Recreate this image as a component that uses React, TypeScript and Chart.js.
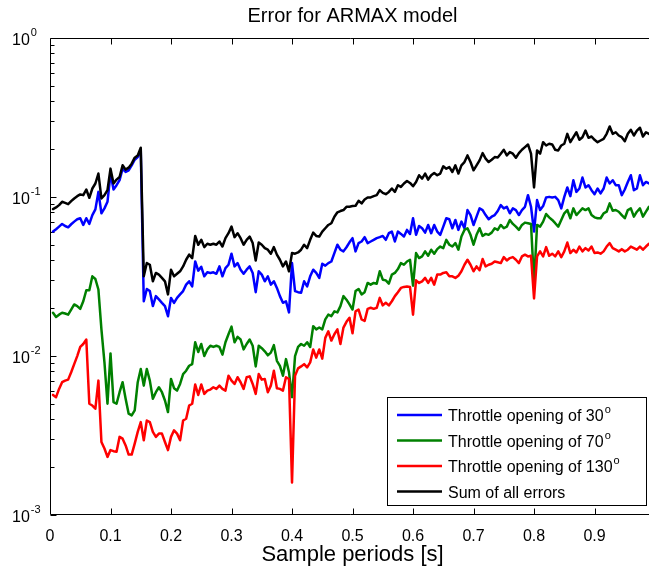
import { useEffect, useRef } from "react";
import { Chart, registerables } from "chart.js";

Chart.register(...registerables);

// ---------------- data ----------------
const SAMPLE_STEP = 0.005;

const throttle30 = [
  0.0606, 0.0627, 0.0651, 0.0677, 0.0657, 0.0645, 0.0674, 0.0700, 0.0724, 0.0735,
  0.0667, 0.0735, 0.0677, 0.0770, 0.0836, 0.1077, 0.0790, 0.0848, 0.0933, 0.1404,
  0.1115, 0.1186, 0.1275, 0.1508, 0.1436, 0.1472, 0.1582, 0.1716, 0.1782, 0.1963,
  0.0221, 0.0264, 0.0256, 0.0206, 0.0238, 0.0227, 0.0216, 0.0206, 0.0178, 0.0232,
  0.0216, 0.0232, 0.0244, 0.0256, 0.0281, 0.0295, 0.0274, 0.0393, 0.0344, 0.0364,
  0.0317, 0.0336, 0.0333, 0.0336, 0.0329, 0.0366, 0.0317, 0.0357, 0.0375, 0.0440,
  0.0366, 0.0384, 0.0349, 0.0329, 0.0349, 0.0366, 0.0333, 0.0252, 0.0341, 0.0325,
  0.0295, 0.0317, 0.0281, 0.0295, 0.0268, 0.0238, 0.0216, 0.0221, 0.0188, 0.0384,
  0.0256, 0.0252, 0.0250, 0.0295, 0.0274, 0.0317, 0.0349, 0.0333, 0.0310, 0.0380,
  0.0370, 0.0384, 0.0393, 0.0444, 0.0501, 0.0466, 0.0455, 0.0483, 0.0519, 0.0551,
  0.0455, 0.0513, 0.0525, 0.0559, 0.0513, 0.0525, 0.0538, 0.0551, 0.0559, 0.0569,
  0.0538, 0.0592, 0.0606, 0.0525, 0.0606, 0.0586, 0.0564, 0.0621, 0.0586, 0.0735,
  0.0578, 0.0657, 0.0636, 0.0597, 0.0667, 0.0592, 0.0667, 0.0606, 0.0578, 0.0651,
  0.0735, 0.0724, 0.0636, 0.0717, 0.0621, 0.0700, 0.0636, 0.0828, 0.0770, 0.0667,
  0.0752, 0.0848, 0.0828, 0.0770, 0.0724, 0.0752, 0.0770, 0.0816, 0.0889, 0.0848,
  0.0868, 0.0790, 0.0848, 0.0828, 0.0770, 0.0828, 0.0868, 0.1027, 0.0868, 0.0606,
  0.0956, 0.0828, 0.0877, 0.0994, 0.1002, 0.0994, 0.1002, 0.0956, 0.0848, 0.1002,
  0.1148, 0.1012, 0.1275, 0.1077, 0.1131, 0.1325, 0.1148, 0.1186, 0.1104, 0.1042,
  0.1131, 0.1053, 0.1131, 0.1325, 0.1216, 0.1275, 0.1186, 0.1186, 0.1027, 0.1115,
  0.1244, 0.1370, 0.1104, 0.1131, 0.1370, 0.1186, 0.1244, 0.1216,
];

const throttle70 = [
  0.0187, 0.0176, 0.0182, 0.0187, 0.0185, 0.0182, 0.0196, 0.0211, 0.0206, 0.0198,
  0.0221, 0.0259, 0.0259, 0.0317, 0.0305, 0.0262, 0.0147, 0.00912, 0.00501, 0.01038,
  0.00513, 0.00501, 0.00592, 0.00684, 0.00538, 0.00434, 0.00423, 0.00455, 0.00684, 0.00828,
  0.00651, 0.00828, 0.00700, 0.00538, 0.00592, 0.00636, 0.00592, 0.00525, 0.00444, 0.00717,
  0.00627, 0.00606, 0.00667, 0.00770, 0.00808, 0.00868, 0.00889, 0.0122, 0.0106, 0.0119,
  0.00999, 0.0110, 0.0116, 0.0114, 0.0116, 0.0114, 0.0102, 0.0122, 0.0137, 0.0153,
  0.0122, 0.0132, 0.0127, 0.0110, 0.0119, 0.0127, 0.0116, 0.00860, 0.0116, 0.0112,
  0.0107, 0.0101, 0.0105, 0.0117, 0.00933, 0.00868, 0.00752, 0.00956, 0.00790, 0.00551,
  0.00999, 0.0114, 0.0119, 0.0116, 0.0122, 0.0114, 0.0154, 0.0147, 0.0151, 0.0147,
  0.0170, 0.0182, 0.0178, 0.0191, 0.0188, 0.0206, 0.0238, 0.0226, 0.0211, 0.0196,
  0.0256, 0.0264, 0.0244, 0.0252, 0.0288, 0.0281, 0.0288, 0.0285, 0.0341, 0.0302,
  0.0299, 0.0285, 0.0325, 0.0333, 0.0352, 0.0384, 0.0375, 0.0393, 0.0403, 0.0277,
  0.0444, 0.0413, 0.0423, 0.0455, 0.0427, 0.0466, 0.0440, 0.0470, 0.0488, 0.0477,
  0.0538, 0.0501, 0.0488, 0.0513, 0.0466, 0.0564, 0.0621, 0.0636, 0.0578, 0.0501,
  0.0578, 0.0636, 0.0569, 0.0586, 0.0578, 0.0597, 0.0636, 0.0621, 0.0667, 0.0636,
  0.0651, 0.0717, 0.0677, 0.0651, 0.0621, 0.0667, 0.0690, 0.0684, 0.0677, 0.0285,
  0.0667, 0.0651, 0.0700, 0.0782, 0.0745, 0.0717, 0.0684, 0.0651, 0.0717, 0.0790,
  0.0828, 0.0735, 0.0848, 0.0770, 0.0808, 0.0848, 0.0828, 0.0848, 0.0770, 0.0745,
  0.0735, 0.0735, 0.0790, 0.0808, 0.0912, 0.0820, 0.0828, 0.0808, 0.0770, 0.0735,
  0.0828, 0.0848, 0.0752, 0.0808, 0.0848, 0.0752, 0.0808, 0.0868,
];

const throttle130 = [
  0.00569, 0.00551, 0.00621, 0.00684, 0.00700, 0.00710, 0.00790, 0.00889, 0.00999, 0.0114,
  0.0119, 0.0127, 0.00501, 0.00488, 0.00466, 0.00700, 0.00288, 0.00262, 0.00232, 0.00256,
  0.00252, 0.00250, 0.00310, 0.00302, 0.00274, 0.00240, 0.00240, 0.00281, 0.00333, 0.00384,
  0.00295, 0.00393, 0.00384, 0.00333, 0.00310, 0.00325, 0.00325, 0.00288, 0.00256, 0.00310,
  0.00341, 0.00325, 0.00295, 0.00393, 0.00403, 0.00488, 0.00501, 0.00662, 0.00569, 0.00662,
  0.00578, 0.00606, 0.00615, 0.00636, 0.00621, 0.00651, 0.00621, 0.00606, 0.00752, 0.00700,
  0.00667, 0.00735, 0.00684, 0.00621, 0.00735, 0.00745, 0.00667, 0.00578, 0.00770, 0.00710,
  0.00717, 0.00592, 0.00651, 0.00808, 0.00627, 0.00621, 0.00606, 0.00735, 0.00717, 0.00160,
  0.00752, 0.00836, 0.00860, 0.00889, 0.00848, 0.00912, 0.0110, 0.00976, 0.0110, 0.00962,
  0.0130, 0.0143, 0.0125, 0.0137, 0.0147, 0.0119, 0.0151, 0.0164, 0.0174, 0.0139,
  0.0191, 0.0196, 0.0170, 0.0166, 0.0198, 0.0201, 0.0198, 0.0201, 0.0232, 0.0208,
  0.0216, 0.0208, 0.0221, 0.0238, 0.0252, 0.0268, 0.0272, 0.0274, 0.0272, 0.0182,
  0.0299, 0.0288, 0.0295, 0.0310, 0.0288, 0.0310, 0.0281, 0.0325, 0.0325, 0.0333,
  0.0336, 0.0317, 0.0317, 0.0310, 0.0320, 0.0341, 0.0375, 0.0403, 0.0375, 0.0341,
  0.0366, 0.0346, 0.0407, 0.0366, 0.0375, 0.0380, 0.0393, 0.0389, 0.0384, 0.0419,
  0.0399, 0.0413, 0.0419, 0.0403, 0.0384, 0.0423, 0.0434, 0.0423, 0.0427, 0.0230,
  0.0423, 0.0455, 0.0423, 0.0484, 0.0427, 0.0440, 0.0423, 0.0455, 0.0419, 0.0455,
  0.0517, 0.0444, 0.0466, 0.0448, 0.0488, 0.0455, 0.0477, 0.0461, 0.0488, 0.0444,
  0.0448, 0.0440, 0.0455, 0.0488, 0.0513, 0.0477, 0.0466, 0.0455, 0.0470, 0.0455,
  0.0466, 0.0488, 0.0477, 0.0466, 0.0488, 0.0466, 0.0488, 0.0508,
];

const sumOfErrors = [
  0.0840, 0.0860, 0.0889, 0.0933, 0.0919, 0.0902, 0.0942, 0.0979, 0.1012, 0.1038,
  0.1027, 0.1115, 0.0988, 0.1131, 0.1216, 0.1404, 0.0979, 0.1027, 0.1104, 0.1508,
  0.1216, 0.1287, 0.1336, 0.1582, 0.1486, 0.1530, 0.1621, 0.1767, 0.1826, 0.2040,
  0.0317, 0.0384, 0.0375, 0.0295, 0.0333, 0.0325, 0.0310, 0.0295, 0.0244, 0.0349,
  0.0317, 0.0329, 0.0341, 0.0366, 0.0403, 0.0434, 0.0413, 0.0569, 0.0501, 0.0538,
  0.0484, 0.0508, 0.0501, 0.0508, 0.0501, 0.0525, 0.0488, 0.0551, 0.0592, 0.0651,
  0.0559, 0.0592, 0.0551, 0.0501, 0.0538, 0.0564, 0.0513, 0.0399, 0.0517, 0.0501,
  0.0477, 0.0466, 0.0440, 0.0484, 0.0434, 0.0403, 0.0366, 0.0393, 0.0341, 0.0444,
  0.0440, 0.0448, 0.0466, 0.0501, 0.0477, 0.0538, 0.0597, 0.0569, 0.0564, 0.0606,
  0.0636, 0.0667, 0.0684, 0.0752, 0.0801, 0.0816, 0.0828, 0.0868, 0.0868, 0.0877,
  0.0881, 0.0946, 0.0912, 0.0965, 0.0994, 0.0994, 0.1012, 0.1027, 0.1104, 0.1062,
  0.1042, 0.1077, 0.1131, 0.1077, 0.1186, 0.1157, 0.1216, 0.1262, 0.1226, 0.1169,
  0.1244, 0.1370, 0.1306, 0.1404, 0.1287, 0.1370, 0.1416, 0.1370, 0.1404, 0.1559,
  0.1508, 0.1543, 0.1436, 0.1582, 0.1404, 0.1582, 0.1659, 0.1826, 0.1659, 0.1472,
  0.1582, 0.1700, 0.1888, 0.1741, 0.1659, 0.1716, 0.1782, 0.1774, 0.1872, 0.1982,
  0.1826, 0.1915, 0.1872, 0.1767, 0.1888, 0.1982, 0.2058, 0.2140, 0.1872, 0.1148,
  0.1963, 0.1872, 0.2212, 0.2109, 0.2162, 0.2140, 0.1982, 0.1963, 0.2109, 0.2162,
  0.2496, 0.2212, 0.2377, 0.2554, 0.2289, 0.2377, 0.2618, 0.2356, 0.2401, 0.2289,
  0.2212, 0.2267, 0.2322, 0.2496, 0.2779, 0.2496, 0.2554, 0.2436, 0.2377, 0.2244,
  0.2496, 0.2649, 0.2436, 0.2618, 0.2727, 0.2401, 0.2554, 0.2496,
];

const samplePeriods = throttle30.map((_, i) => Number(((i + 1) * SAMPLE_STEP).toFixed(3)));

const xTickValues = [0, 0.1, 0.2, 0.3, 0.4, 0.5, 0.6, 0.7, 0.8, 0.9];
const xTickLabels = ["0", "0.1", "0.2", "0.3", "0.4", "0.5", "0.6", "0.7", "0.8", "0.9"];
const yDecades = [1e-3, 1e-2, 1e-1, 1];
const yExponents = ["-3", "-2", "-1", "0"];

const titleText = "Error for ARMAX model";
const xAxisTitle = "Sample periods [s]";

const seriesLabels = ["Throttle opening of 30", "Throttle opening of 70", "Throttle opening of 130", "Sum of all errors"];
const seriesSup = ["o", "o", "o", ""];
const seriesColors = ["#0000ff", "#008000", "#ff0000", "#000000"];
const seriesValues = [throttle30, throttle70, throttle130, sumOfErrors];

// ---------------- drawing helpers ----------------
const FONT = "'Liberation Sans', Arial, Helvetica, sans-serif";

const matlabPlugin = {
  id: "matlabAxes",
  beforeDatasetsDraw(chart: any) {
    const { ctx, chartArea: a, scales } = chart;
    const xs = scales.x;
    const ys = scales.y;
    ctx.save();
    ctx.strokeStyle = "#000";
    ctx.lineWidth = 1;
    const L = Math.round(a.left) + 0.5;
    const T = Math.round(a.top) + 0.5;
    const B = Math.round(a.bottom) - 0.5;
    const R = a.right + 2;
    ctx.beginPath();
    ctx.moveTo(R, T);
    ctx.lineTo(L, T);
    ctx.lineTo(L, B);
    ctx.lineTo(R, B);
    ctx.stroke();
    ctx.beginPath();
    xTickValues.forEach((v) => {
      if (v === 0) return;
      const px = Math.round(xs.getPixelForValue(v)) + 0.5;
      ctx.moveTo(px, B);
      ctx.lineTo(px, B - 6);
      ctx.moveTo(px, T);
      ctx.lineTo(px, T + 6);
    });
    ctx.stroke();
    ctx.beginPath();
    yDecades.forEach((d, di) => {
      for (let m = 1; m <= 9; m++) {
        const v = d * m;
        if (v > 1 || (di === yDecades.length - 1 && m > 1)) continue;
        const py = Math.round(ys.getPixelForValue(v)) + 0.5;
        const len = m === 1 ? 6 : 4;
        ctx.moveTo(L, py);
        ctx.lineTo(L + len, py);
      }
    });
    ctx.stroke();
    ctx.restore();
  },
  afterDraw(chart: any) {
    const { ctx, chartArea: a, scales } = chart;
    const xs = scales.x;
    const ys = scales.y;
    ctx.save();
    ctx.fillStyle = "#000";
    ctx.font = `16px ${FONT}`;
    ctx.textAlign = "center";
    ctx.textBaseline = "alphabetic";
    xTickValues.forEach((v, i) => {
      ctx.fillText(xTickLabels[i], xs.getPixelForValue(v), a.bottom + 26);
    });
    ctx.textAlign = "left";
    yDecades.forEach((d, i) => {
      const py = ys.getPixelForValue(d);
      ctx.font = `16px ${FONT}`;
      ctx.fillText("10", 12, py + 7);
      const w = ctx.measureText("10").width;
      ctx.font = `11px ${FONT}`;
      ctx.fillText(yExponents[i], 12 + w + 1, py - 2);
    });
    const cx = (a.left + xs.getPixelForValue(1)) / 2;
    ctx.textAlign = "center";
    ctx.font = `20px ${FONT}`;
    ctx.fillText(titleText, cx, 22);
    ctx.font = `22px ${FONT}`;
    ctx.fillText(xAxisTitle, cx, 561);

    const bx = 387.5, by = 397.5, bw = 259, bh = 108;
    ctx.fillStyle = "#fff";
    ctx.fillRect(bx, by, bw, bh);
    ctx.strokeStyle = "#000";
    ctx.lineWidth = 1;
    ctx.strokeRect(bx, by, bw, bh);
    const rowY = [415, 440.5, 466, 491.5];
    seriesLabels.forEach((lab, i) => {
      const y = rowY[i];
      ctx.strokeStyle = seriesColors[i];
      ctx.lineWidth = 2.5;
      ctx.beginPath();
      ctx.moveTo(397, y);
      ctx.lineTo(442, y);
      ctx.stroke();
      ctx.fillStyle = "#000";
      ctx.textAlign = "left";
      ctx.font = `16px ${FONT}`;
      ctx.fillText(lab, 448, y + 6);
      if (seriesSup[i]) {
        const w = ctx.measureText(lab).width;
        ctx.font = `11px ${FONT}`;
        ctx.fillText(seriesSup[i], 448 + w + 1, y - 2);
      }
    });
    ctx.restore();
  },
};

export default function App() {
  const canvasRef = useRef<HTMLCanvasElement | null>(null);

  useEffect(() => {
    const canvas = canvasRef.current;
    if (!canvas) return;
    const orders = [3, 2, 1, 0];
    const chart = new Chart(canvas, {
      type: "line",
      data: {
        datasets: seriesValues.map((vals, s) => ({
          label: seriesLabels[s],
          data: samplePeriods.map((x, i) => ({ x, y: vals[i] })),
          borderColor: seriesColors[s],
          backgroundColor: seriesColors[s],
          borderWidth: 2.5,
          pointRadius: 0,
          tension: 0,
          fill: false,
          order: orders[s],
          borderJoinStyle: "round" as const,
          borderCapStyle: "round" as const,
        })),
      },
      options: {
        responsive: false,
        animation: false,
        devicePixelRatio: 1,
        events: [],
        layout: { padding: { left: 50, right: 0, top: 38, bottom: 54 } },
        scales: {
          x: { type: "linear", min: 0, max: 0.99, display: false },
          y: { type: "logarithmic", min: 1e-3, max: 1, display: false },
        },
        plugins: {
          legend: { display: false },
          tooltip: { enabled: false },
          title: { display: false },
        },
      },
      plugins: [matlabPlugin],
    } as any);
    return () => chart.destroy();
  }, []);

  return (
    <div style={{ position: "absolute", left: 0, top: 0, width: 649, height: 569, background: "#fff" }}>
      <canvas ref={canvasRef} width={649} height={569} style={{ display: "block", width: 649, height: 569 }} />
    </div>
  );
}
